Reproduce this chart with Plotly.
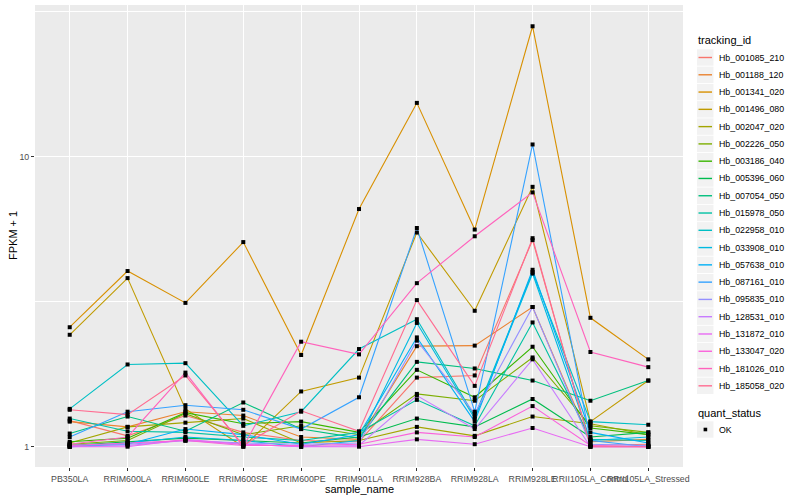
import plotly.graph_objects as go

samples = ["PB350LA", "RRIM600LA", "RRIM600LE", "RRIM600SE", "RRIM600PE", "RRIM901LA",
           "RRIM928BA", "RRIM928LA", "RRIM928LE", "RRII105LA_Control", "RRII105LA_Stressed"]

tracking_ids = ["Hb_001085_210", "Hb_001188_120", "Hb_001341_020", "Hb_001496_080",
                "Hb_002047_020", "Hb_002226_050", "Hb_003186_040", "Hb_005396_060",
                "Hb_007054_050", "Hb_015978_050", "Hb_022958_010", "Hb_033908_010",
                "Hb_057638_010", "Hb_087161_010", "Hb_095835_010", "Hb_128531_010",
                "Hb_131872_010", "Hb_133047_020", "Hb_181026_010", "Hb_185058_020"]

colors = ["#F8766D", "#EA8331", "#D89000", "#C09B00", "#A3A500", "#7CAE00", "#39B600",
          "#00BB4E", "#00BF7D", "#00C1A3", "#00BFC4", "#00BAE0", "#00B0F6", "#35A2FF",
          "#9590FF", "#C77CFF", "#E76BF3", "#FA62DB", "#FF62BC", "#FF6C91"]

# FPKM + 1 per gene, in sample order
fpkm_001085_210 = [1.23, 1.09, 1.28, 1.12, 1.05, 1.04, 1.73, 1.76, 5.15, 1.01, 1.02]
fpkm_001188_120 = [1.22, 1.17, 1.32, 1.28, 1.08, 1.06, 2.22, 2.23, 3.03, 1.04, 1.06]
fpkm_001341_020 = [2.58, 4.03, 3.13, 5.07, 2.07, 6.59, 15.3, 5.60, 28.1, 2.78, 2.00]
fpkm_001496_080 = [2.43, 3.81, 1.35, 1.00, 1.55, 1.73, 5.47, 2.94, 7.86, 1.22, 1.69]
fpkm_002047_020 = [1.03, 1.17, 1.21, 1.25, 1.03, 1.05, 1.17, 1.09, 1.27, 1.20, 1.10]
fpkm_002226_050 = [1.02, 1.05, 1.30, 1.10, 1.18, 1.10, 1.52, 1.44, 2.03, 1.18, 1.12]
fpkm_003186_040 = [1.04, 1.07, 1.31, 1.20, 1.22, 1.12, 1.84, 1.48, 2.21, 1.16, 1.10]
fpkm_005396_060 = [1.01, 1.04, 1.07, 1.05, 1.03, 1.08, 1.25, 1.17, 1.46, 1.08, 1.12]
fpkm_007054_050 = [1.11, 1.27, 1.13, 1.42, 1.15, 1.07, 1.96, 1.86, 1.69, 1.44, 1.69]
fpkm_015978_050 = [1.25, 1.13, 1.12, 1.08, 1.05, 1.12, 1.45, 1.18, 2.68, 1.06, 1.05]
fpkm_022958_010 = [1.35, 1.92, 1.94, 1.18, 1.32, 2.17, 2.75, 1.27, 4.00, 1.22, 1.19]
fpkm_033908_010 = [1.00, 1.03, 1.08, 1.05, 1.00, 1.05, 2.67, 1.25, 3.95, 1.05, 1.08]
fpkm_057638_010 = [1.00, 1.02, 1.15, 1.10, 1.02, 1.10, 2.38, 1.22, 4.07, 1.12, 1.03]
fpkm_087161_010 = [1.08, 1.32, 1.39, 1.34, 1.15, 1.48, 5.67, 1.32, 11.0, 1.05, 1.00]
fpkm_095835_010 = [1.01, 1.02, 1.05, 1.03, 1.02, 1.03, 2.32, 1.30, 3.03, 1.02, 1.01]
fpkm_128531_010 = [1.00, 1.01, 1.05, 1.02, 1.00, 1.01, 1.50, 1.15, 2.00, 1.00, 1.00]
fpkm_131872_010 = [1.00, 1.00, 1.06, 1.02, 1.00, 1.00, 1.06, 1.02, 1.16, 1.00, 1.00]
fpkm_133047_020 = [1.01, 1.03, 1.05, 1.01, 1.01, 1.02, 1.12, 1.08, 1.38, 1.01, 1.00]
fpkm_181026_010 = [1.02, 1.08, 1.80, 1.00, 2.30, 2.08, 3.66, 5.31, 7.52, 2.12, 1.88]
fpkm_185058_020 = [1.34, 1.29, 1.76, 1.01, 1.33, 1.13, 3.20, 1.62, 5.23, 1.00, 1.00]

series = [fpkm_001085_210, fpkm_001188_120, fpkm_001341_020, fpkm_001496_080,
          fpkm_002047_020, fpkm_002226_050, fpkm_003186_040, fpkm_005396_060,
          fpkm_007054_050, fpkm_015978_050, fpkm_022958_010, fpkm_033908_010,
          fpkm_057638_010, fpkm_087161_010, fpkm_095835_010, fpkm_128531_010,
          fpkm_131872_010, fpkm_133047_020, fpkm_181026_010, fpkm_185058_020]

quant_status = ["OK"]

FONT = "Liberation Sans"
fig = go.Figure()

for name, col, vals in zip(tracking_ids, colors, series):
    fig.add_trace(go.Scatter(x=samples, y=vals, mode="lines", name=name,
                             line=dict(color=col, width=1.1), showlegend=False))

px_x, px_y = [], []
for vals in series:
    px_x += samples
    px_y += vals
fig.add_trace(go.Scatter(x=px_x, y=px_y, mode="markers", name="OK", showlegend=False,
                         marker=dict(symbol="square", size=4, color="black")))

# plot-area geometry in pixels (for legend placement)
L, R, T, B = 35, 683, 5, 467
def xp(p): return (p - L) / (R - L)
def yp(p): return (B - p) / (B - T)

shapes = []
annotations = []

# legend: tracking_id
annotations.append(dict(x=xp(696), y=yp(40), xref="paper", yref="paper", text="tracking_id",
                        showarrow=False, xanchor="left", yanchor="middle",
                        font=dict(family=FONT, size=11, color="black")))
pitch = 17.28
for i, (name, col) in enumerate(zip(tracking_ids, colors)):
    cy = 57.5 + pitch * i
    shapes.append(dict(type="rect", xref="paper", yref="paper",
                       x0=xp(697), x1=xp(713.5), y0=yp(cy - 8.2), y1=yp(cy + 8.2),
                       fillcolor="#F2F2F2", line=dict(width=0), layer="above"))
    shapes.append(dict(type="line", xref="paper", yref="paper",
                       x0=xp(698.5), x1=xp(712), y0=yp(cy), y1=yp(cy),
                       line=dict(color=col, width=1.4), layer="above"))
    annotations.append(dict(x=xp(716.5), y=yp(cy), xref="paper", yref="paper", text=name,
                            showarrow=False, xanchor="left", yanchor="middle",
                            font=dict(family=FONT, size=8.8, color="black")))

# legend: quant_status
annotations.append(dict(x=xp(696), y=yp(412.5), xref="paper", yref="paper", text="quant_status",
                        showarrow=False, xanchor="left", yanchor="middle",
                        font=dict(family=FONT, size=11, color="black")))
cy = 429.5
shapes.append(dict(type="rect", xref="paper", yref="paper",
                   x0=xp(697), x1=xp(713.5), y0=yp(cy - 8.2), y1=yp(cy + 8.2),
                   fillcolor="#F2F2F2", line=dict(width=0), layer="above"))
shapes.append(dict(type="rect", xref="paper", yref="paper",
                   x0=xp(703.6), x1=xp(707.2), y0=yp(cy - 1.8), y1=yp(cy + 1.8),
                   fillcolor="black", line=dict(width=0), layer="above"))
annotations.append(dict(x=xp(716.5), y=yp(cy), xref="paper", yref="paper", text=quant_status[0],
                        showarrow=False, xanchor="left", yanchor="middle",
                        font=dict(family=FONT, size=8.8, color="black")))

# axis titles
annotations.append(dict(x=0.5, y=yp(489), xref="paper", yref="paper", text="sample_name",
                        showarrow=False, xanchor="center", yanchor="middle",
                        font=dict(family=FONT, size=11, color="black")))
annotations.append(dict(x=xp(13), y=0.5, xref="paper", yref="paper", text="FPKM + 1",
                        showarrow=False, xanchor="center", yanchor="middle", textangle=-90,
                        font=dict(family=FONT, size=11, color="black")))

fig.update_layout(
    width=800, height=500,
    margin=dict(l=L, r=800 - R, t=T, b=500 - B),
    paper_bgcolor="white", plot_bgcolor="#EBEBEB",
    font=dict(family=FONT, size=9, color="#4D4D4D"),
    showlegend=False,
    shapes=shapes, annotations=annotations,
    xaxis=dict(type="category", categoryorder="array", categoryarray=samples,
               range=[-0.6, len(samples) - 0.4], tickangle=0,
               showgrid=True, gridcolor="white", gridwidth=1.4, zeroline=False,
               showline=False, ticks="outside", ticklen=3, tickwidth=1, tickcolor="#333333",
               tickfont=dict(family=FONT, size=8.8, color="#4D4D4D"), automargin=False),
    yaxis=dict(type="log", range=[-0.07, 1.522], tickvals=[1, 10], ticktext=["1", "10"],
               showgrid=True, gridcolor="white", gridwidth=1.4, zeroline=False,
               showline=False, ticks="outside", ticklen=3, tickwidth=1, tickcolor="#333333",
               tickfont=dict(family=FONT, size=8.8, color="#4D4D4D"), automargin=False,
               minor=dict(tickvals=[10 ** 0.5, 10 ** 1.5], showgrid=True, gridcolor="white",
                          gridwidth=0.7, ticks="")),
)

fig.write_html("out.html", config={"displayModeBar": False},
               post_script="document.body.style.margin='0';")
